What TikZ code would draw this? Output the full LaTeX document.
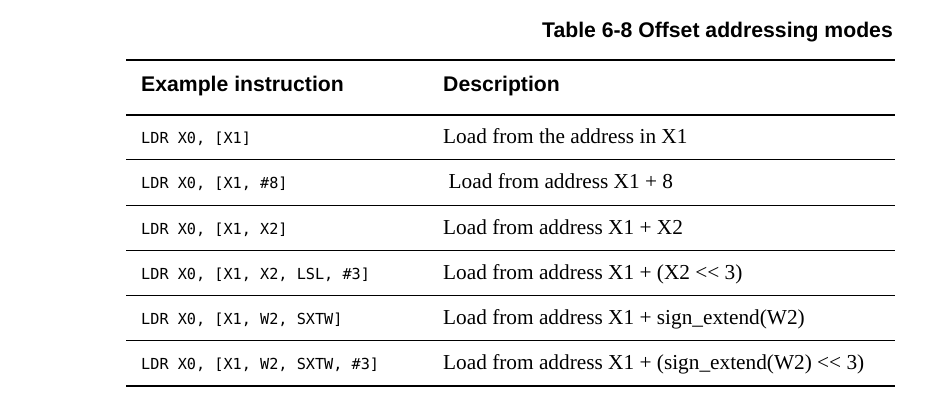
\documentclass[tikz,border=0pt]{standalone}
\usepackage{fontspec}
\setmainfont{Liberation Serif}
\newfontfamily\hdfont{Liberation Sans}
\newfontfamily\codefont{DejaVu Sans Mono}
\newcommand{\shl}{{<}{<}}
\begin{document}
\begin{tikzpicture}[x=1pt,y=-1pt,
  thickrule/.style={line width=2pt,line cap=butt},
  thinrule/.style={line width=1pt},
  titletext/.style={anchor=base east,inner sep=0pt,font=\hdfont\bfseries\fontsize{21.2}{24}\selectfont},
  headtext/.style={anchor=base west,inner sep=0pt,font=\hdfont\bfseries\fontsize{21.2}{24}\selectfont},
  codetext/.style={anchor=base west,inner sep=0pt,font=\codefont\fontsize{15.2}{17}\selectfont},
  desctext/.style={anchor=base west,inner sep=0pt,font=\fontsize{21.3}{24}\selectfont}]
\useasboundingbox (0,0) rectangle (945,401);
% title
\node[titletext] (title) at (893,38) {Table 6-8 Offset addressing modes};
% rules
\coordinate (t0) at (126,60);   \coordinate (t1) at (895,60);
\coordinate (h0) at (126,115);  \coordinate (h1) at (895,115);
\coordinate (r10) at (126,159.5); \coordinate (r11) at (895,159.5);
\coordinate (r20) at (126,205.5); \coordinate (r21) at (895,205.5);
\coordinate (r30) at (126,250.5); \coordinate (r31) at (895,250.5);
\coordinate (r40) at (126,295.5); \coordinate (r41) at (895,295.5);
\coordinate (r50) at (126,340.5); \coordinate (r51) at (895,340.5);
\coordinate (b0) at (126,386);  \coordinate (b1) at (895,386);
\draw[thickrule] (t0) -- (t1);
\draw[thickrule] (h0) -- (h1);
\draw[thinrule] (r10) -- (r11);
\draw[thinrule] (r20) -- (r21);
\draw[thinrule] (r30) -- (r31);
\draw[thinrule] (r40) -- (r41);
\draw[thinrule] (r50) -- (r51);
\draw[thickrule] (b0) -- (b1);
% header
\node[headtext] (hex) at (141,92) {Example instruction};
\node[headtext] (hde) at (443,92) {Description};
% rows
\node[codetext] (c1) at (141,143.5) {LDR X0, [X1]};
\node[desctext] (d1) at (443,143.5) {Load from the address in X1};
\node[codetext] (c2) at (141,188.5) {LDR X0, [X1, \#8]};
\node[desctext] (d2) at (448.5,188.5) {Load from address X1 + 8};
\node[codetext] (c3) at (141,234) {LDR X0, [X1, X2]};
\node[desctext] (d3) at (443,234) {Load from address X1 + X2};
\node[codetext] (c4) at (141,279) {LDR X0, [X1, X2, LSL, \#3]};
\node[desctext] (d4) at (443,279) {Load from address X1 + (X2 \shl{} 3)};
\node[codetext] (c5) at (141,324) {LDR X0, [X1, W2, SXTW]};
\node[desctext] (d5) at (443,324) {Load from address X1 + sign\_extend(W2)};
\node[codetext] (c6) at (141,369.5) {LDR X0, [X1, W2, SXTW, \#3]};
\node[desctext] (d6) at (443,369.5) {Load from address X1 + (sign\_extend(W2) \shl{} 3)};
\end{tikzpicture}
\end{document}
